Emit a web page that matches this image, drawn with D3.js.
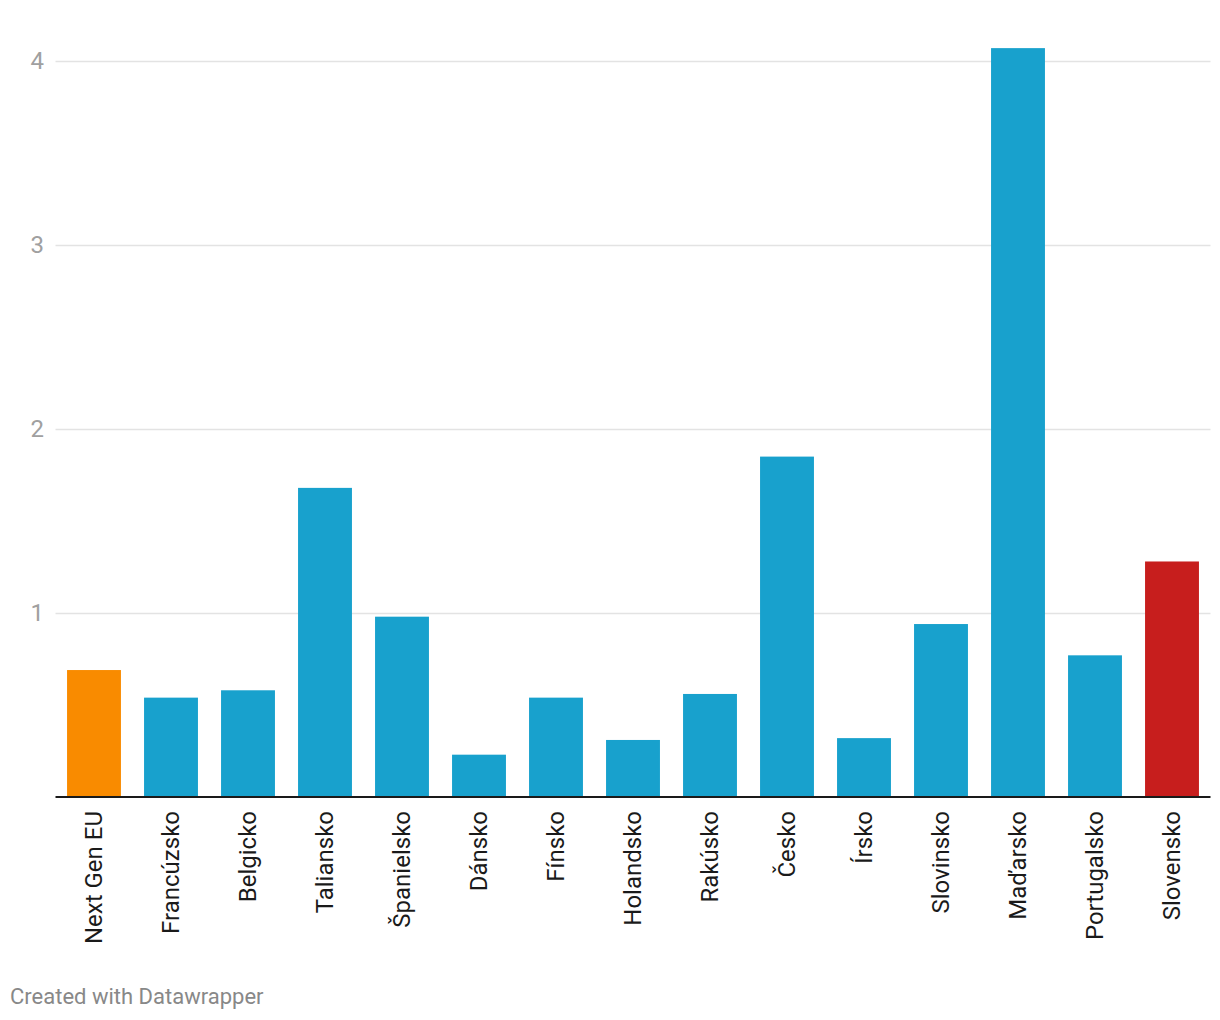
<!DOCTYPE html>
<html>
<head>
<meta charset="utf-8">
<script src="https://cdn.jsdelivr.net/npm/d3@7"></script>
<style>
  body { margin: 0; background: #fff; font-family: Roboto, sans-serif; }
</style>
</head>
<body>
<svg id="chart"></svg>
<script>
var countries = ["Next Gen EU", "Francúzsko", "Belgicko", "Taliansko", "Španielsko", "Dánsko", "Fínsko",
    "Holandsko", "Rakúsko", "Česko", "Írsko", "Slovinsko", "Maďarsko", "Portugalsko", "Slovensko"];
var values = [0.69, 0.54, 0.58, 1.68, 0.98, 0.23, 0.54, 0.31, 0.56, 1.85, 0.32, 0.94, 4.07, 0.77, 1.28];
var yTicks = [1, 2, 3, 4];

var width = 1220, height = 1020;
var margin = { left: 55.5, right: 9.5, top: 40, bottom: 223 };

var svg = d3.select("svg#chart")
    .attr("width", width)
    .attr("height", height);

var xScale = d3.scaleBand()
    .domain(countries)
    .range([margin.left, width - margin.right])
    .paddingInner(0.3)
    .paddingOuter(0.15);

var yScale = d3.scaleLinear()
    .domain([0, 4])
    .range([height - margin.bottom, 61]);

// gridlines + y labels
var grid = svg.append("g").attr("class", "grid");
grid.selectAll("line")
    .data(yTicks)
    .enter()
    .append("line")
    .attr("x1", margin.left)
    .attr("x2", width - margin.right)
    .attr("y1", d => Math.round(yScale(d)) + 0.5)
    .attr("y2", d => Math.round(yScale(d)) + 0.5)
    .style("stroke", "#e3e3e3")
    .style("stroke-width", 1.5);

grid.selectAll("text")
    .data(yTicks)
    .enter()
    .append("text")
    .attr("x", 44)
    .attr("y", d => yScale(d))
    .attr("dy", "0.35em")
    .style("text-anchor", "end")
    .style("font-size", "24px")
    .style("fill", "#a0a0a0")
    .text(d => d);

// bars
svg.append("g")
    .attr("class", "bars")
    .selectAll("rect")
    .data(countries)
    .enter()
    .append("rect")
    .attr("x", d => xScale(d))
    .attr("y", (d, i) => yScale(values[i]))
    .attr("width", xScale.bandwidth())
    .attr("height", (d, i) => yScale(0) - yScale(values[i]))
    .attr("fill", (d, i) => {
        if (i == 0) return "#f98b00";
        if (d == "Slovensko") return "#c71e1d";
        return "#18a1cd";
    });

// baseline
svg.append("line")
    .attr("x1", margin.left)
    .attr("x2", width - margin.right)
    .attr("y1", yScale(0))
    .attr("y2", yScale(0))
    .style("stroke", "#1a1a1a")
    .style("stroke-width", 2);

// x labels, rotated
svg.append("g")
    .attr("class", "xlabels")
    .selectAll("text")
    .data(countries)
    .enter()
    .append("text")
    .attr("transform", d => "translate(" + (xScale(d) + xScale.bandwidth() / 2) + "," + (yScale(0) + 14) + ") rotate(-90)")
    .attr("dy", "0.35em")
    .style("text-anchor", "end")
    .style("font-size", "24px")
    .style("fill", "#1a1a1a")
    .text(d => d);

svg.append("text")
    .attr("x", 10)
    .attr("y", 1004)
    .style("font-size", "22px")
    .style("fill", "#888")
    .text("Created with Datawrapper");
</script>
</body>
</html>
